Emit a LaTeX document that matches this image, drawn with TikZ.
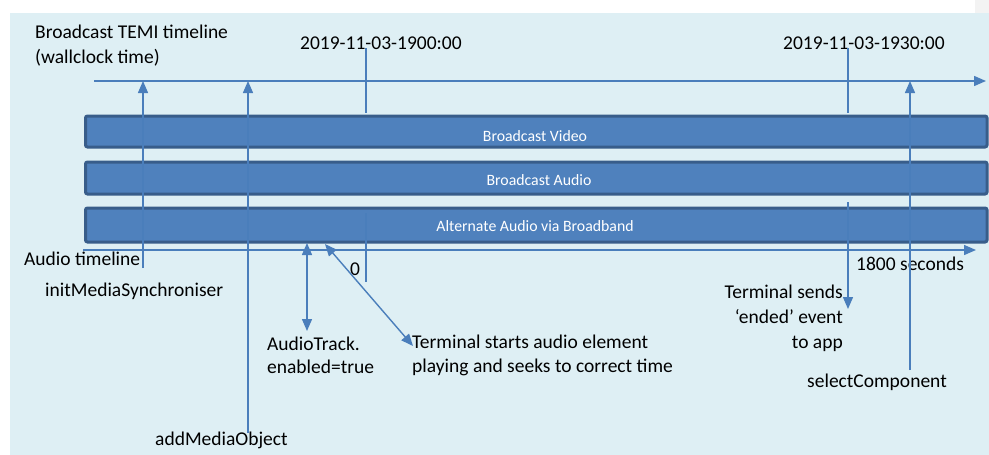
\documentclass[tikz,border=0pt]{standalone}
\usepackage{fontspec}
\setmainfont{Carlito}
\usetikzlibrary{arrows.meta}
\definecolor{bgblue}{HTML}{DEEFF4}
\definecolor{lineblue}{HTML}{4A7EBB}
\definecolor{boxfill}{HTML}{4F81BD}
\definecolor{boxedge}{HTML}{385D8A}
\definecolor{strip}{HTML}{F3F3F3}
\tikzset{
  tl/.style={draw=lineblue, line width=1.4pt},
  tip/.style={-{Triangle[length=12pt,width=10pt]}},
  dtip/.style={{Triangle[length=12pt,width=10pt]}-{Triangle[length=12pt,width=10pt]}},
  lbl/.style={inner sep=0pt, font=\fontsize{19.5}{23.5}\selectfont, text=black},
  track/.style={draw=boxedge, fill=boxfill, line width=3pt, rounded corners=2pt},
  tracktext/.style={inner sep=0pt, text=white, font=\fontsize{15.8}{18}\selectfont}
}
\begin{document}
\begin{tikzpicture}[x=1pt, y=-1pt]
\useasboundingbox (0,0) rectangle (989,455);
\fill[white] (0,0) rectangle (989,455);
\fill[strip] (975,0) rectangle (989,13);
\fill[bgblue] (10,13) rectangle (989,455);

% timelines
\coordinate (top0) at (94,81);
\coordinate (top1) at (986,81);
\draw[tl, tip] (top0) -- (top1);
\coordinate (aud0) at (83,250);
\coordinate (aud1) at (976,250);
\draw[tl, tip] (aud0) -- (aud1);

% tracks
\node[track, minimum width=901.5pt, minimum height=31pt, anchor=north west] (video) at (84,114.5) {};
\node[track, minimum width=901.5pt, minimum height=32pt, anchor=north west] (audio) at (84,160.5) {};
\node[track, minimum width=901.5pt, minimum height=34pt, anchor=north west] (alt) at (84,206.5) {};
\node[tracktext] (videot) at (535,136) {Broadcast Video};
\node[tracktext] (audiot) at (539,180) {Broadcast Audio};
\node[tracktext] (altt) at (535,226) {Alternate Audio via Broadband};

% texts
\node[lbl, align=left, anchor=north west, font=\fontsize{19.5}{24.5}\selectfont] (temi) at (35,25) {Broadcast TEMI timeline\\(wallclock time)};
\node[lbl, anchor=west] (t1900) at (300,43) {2019-11-03-1900:00};
\node[lbl, anchor=west] (t1930) at (783,43) {2019-11-03-1930:00};
\node[lbl, anchor=west] (audtl) at (24,259) {Audio timeline};
\node[lbl, anchor=west] (init) at (45,291) {initMediaSynchroniser};
\node[lbl, anchor=west] (zero) at (350,269) {0};
\node[lbl, anchor=west] (s1800) at (856,264) {1800 seconds};
\node[lbl, align=left, anchor=west] (atrack) at (267,355.5) {AudioTrack.\\enabled=true};
\node[lbl, align=left, anchor=west] (tstart) at (412,355.5) {Terminal starts audio element\\playing and seeks to correct time};
\node[lbl, align=right, anchor=east, font=\fontsize{19.5}{25}\selectfont] (tsend) at (843,318) {Terminal sends\\‘ended’ event\\to app};
\node[lbl, anchor=west] (addm) at (155,440) {addMediaObject};
\node[lbl, anchor=west] (selc) at (807,382) {selectComponent};

% wallclock markers
\coordinate (m1900a) at (366,48);
\coordinate (m1900b) at (366,113);
\coordinate (m1900c) at (366,213);
\coordinate (m1900d) at (366,282);
\draw[tl] (m1900a) -- (m1900b);
\draw[tl] (m1900c) -- (m1900d);
\coordinate (m1930a) at (848,48);
\coordinate (m1930b) at (848,113);
\coordinate (m1930c) at (848,202);
\coordinate (m1930d) at (848,309);
\draw[tl] (m1930a) -- (m1930b);
\draw[tl, tip] (m1930c) -- (m1930d);

% event arrows
\coordinate (initbot) at (143,268);
\coordinate (inittop) at (143,81);
\draw[tl, tip] (initbot) -- (inittop);
\coordinate (addbot) at (248,433);
\coordinate (addtop) at (248,81);
\draw[tl, tip] (addbot) -- (addtop);
\coordinate (selbot) at (910,370);
\coordinate (seltop) at (910,81);
\draw[tl, tip] (selbot) -- (seltop);
\coordinate (attop) at (307,243);
\coordinate (atbot) at (307,331);
\draw[tl, dtip] (attop) -- (atbot);
\coordinate (tstop) at (325,244);
\coordinate (tsbot) at (413,346);
\draw[tl, dtip] (tstop) -- (tsbot);
\end{tikzpicture}
\end{document}
